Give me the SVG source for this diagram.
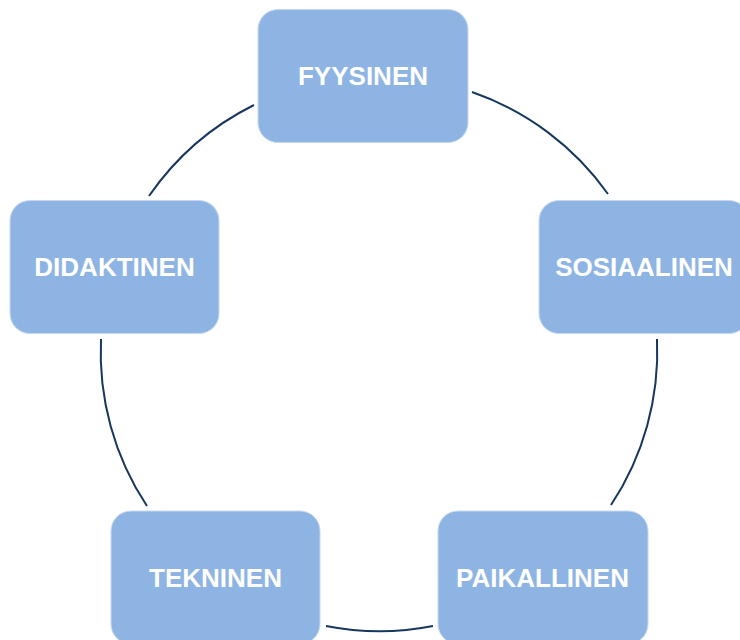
<svg xmlns="http://www.w3.org/2000/svg" width="740" height="640" viewBox="0 0 740 640">
<style>
.box{fill:#8EB4E3;stroke:#C6D9F1;stroke-width:1}
.lbl{font-family:"Liberation Sans",Arial,sans-serif;font-weight:bold;font-size:26px;fill:#FFFFFF;text-anchor:middle}
.arc{fill:none;stroke:#17375E;stroke-width:2}
</style>
<rect width="740" height="640" fill="#FFFFFF"/>
<g id="connectors">
<path class="arc" d="M149,196 A278,278 0 0 1 254,105"/>
<path class="arc" d="M472,92 A278,278 0 0 1 608,194"/>
<path class="arc" d="M657,339 A278,278 0 0 1 611,505"/>
<path class="arc" d="M433,626 A278,278 0 0 1 326,626"/>
<path class="arc" d="M147,506 A278,278 0 0 1 101,339"/>
</g>
<g id="fyysinen"><rect class="box" x="258" y="9.5" width="210" height="133" rx="20"/><text class="lbl" x="363" y="85">FYYSINEN</text></g>
<g id="sosiaalinen"><rect class="box" x="539" y="200.5" width="210" height="133" rx="20"/><text class="lbl" x="644" y="276">SOSIAALINEN</text></g>
<g id="paikallinen"><rect class="box" x="438" y="511" width="210" height="133" rx="20"/><text class="lbl" x="542.5" y="587">PAIKALLINEN</text></g>
<g id="tekninen"><rect class="box" x="111" y="511" width="209" height="133" rx="20"/><text class="lbl" x="215.5" y="587">TEKNINEN</text></g>
<g id="didaktinen"><rect class="box" x="10" y="200.5" width="209" height="133" rx="20"/><text class="lbl" x="114.5" y="276">DIDAKTINEN</text></g>
</svg>
